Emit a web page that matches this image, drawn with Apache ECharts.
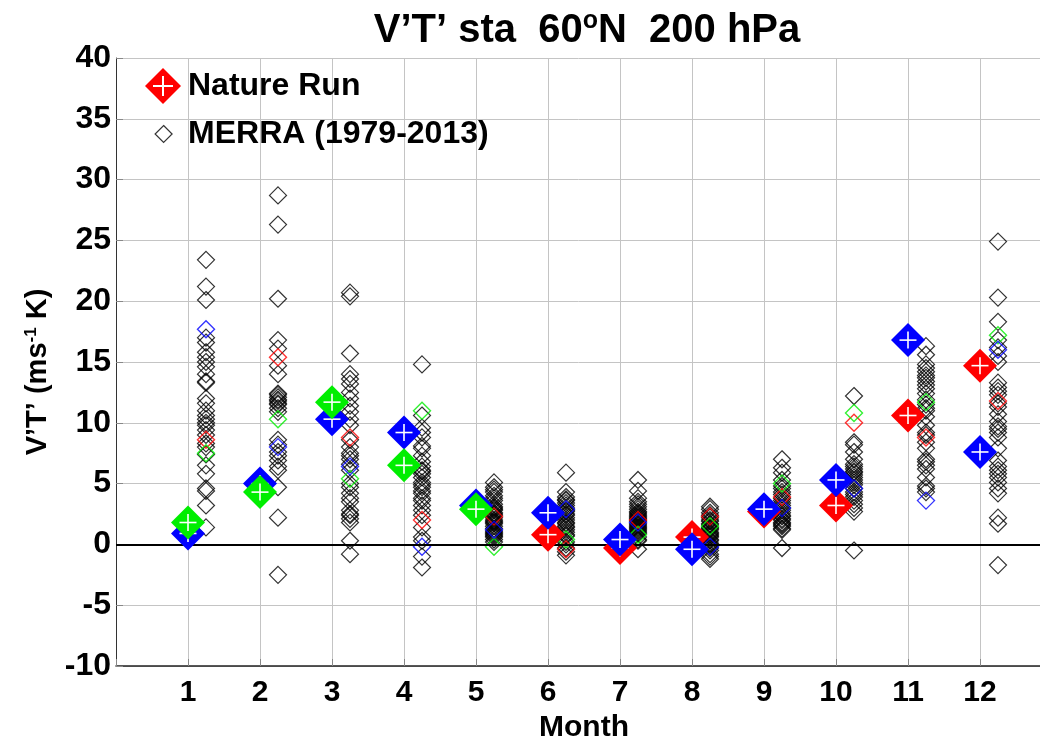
<!DOCTYPE html>
<html>
<head>
<meta charset="utf-8">
<script src="https://cdn.jsdelivr.net/npm/echarts@6.0.0/dist/echarts.min.js"></script>
<style>
  html, body { margin: 0; padding: 0; background: #fff; }
  #chart { width: 1040px; height: 749px; }
</style>
</head>
<body>
<div id="chart"></div>
<script>
// Months on the x axis and their tick labels
const months = [1, 2, 3, 4, 5, 6, 7, 8, 9, 10, 11, 12];
const monthLabels = ['1', '2', '3', '4', '5', '6', '7', '8', '9', '10', '11', '12'];

// Nature Run monthly V'T' (three runs, shown red / green / blue)
const natureRed   = [null, null, null, null, null, 0.8, -0.3, 0.6, 2.7, 3.2, 10.6, 14.7];
const natureGreen = [1.8, 4.3, 11.7, 6.5, 2.9, null, null, null, null, null, null, null];
const natureBlue  = [0.9, 5.0, 10.3, 9.2, 3.2, 2.6, 0.4, -0.4, 2.9, 5.3, 16.8, 7.6];

// MERRA years highlighted in colour
const merraRed   = [8.6, 15.4, 8.8, 2.0, 2.3, -0.4, 2.0, 2.3, 3.9, 10.0, 8.8, 11.8];
const merraGreen = [7.5, 10.3, 5.4, 11.0, -0.2, 0.4, 0.8, 1.5, 5.0, 10.8, 11.7, 17.2];
const merraBlue  = [17.7, 8.0, 6.4, -0.2, 1.2, 2.9, 1.8, -0.2, 3.0, 4.6, 3.6, 16.0];

// MERRA 1979-2013 values, one array per month
const merraJan = [23.4, 21.2, 20.1, 17.0, 16.6, 15.8, 15.4, 15.0, 14.6, 14.0, 13.4, 13.3, 12.0, 11.6, 11.0, 10.6, 10.3, 10.0, 9.8, 9.4, 9.0, 8.3, 8.0, 7.4, 6.5, 5.8, 4.6, 4.4, 3.2, 1.4];
const merraFeb = [28.7, 26.3, 20.2, 16.8, 16.1, 14.7, 14.0, 12.4, 12.3, 12.1, 11.9, 11.8, 11.6, 11.5, 11.2, 10.9, 8.6, 8.2, 7.6, 7.3, 6.9, 6.4, 6.1, 4.7, 2.2, -2.5];
const merraMar = [20.7, 20.4, 15.7, 14.0, 13.6, 13.2, 12.5, 12.0, 11.4, 10.9, 10.3, 9.8, 8.6, 8.0, 7.5, 7.3, 7.0, 6.6, 6.1, 5.0, 4.7, 4.2, 3.8, 3.5, 2.8, 2.5, 2.4, 2.1, 1.8, 0.3, -0.8];
const merraApr = [14.8, 10.6, 9.6, 9.2, 8.8, 8.1, 7.9, 7.3, 6.8, 6.4, 6.1, 6.0, 5.8, 5.5, 5.1, 4.9, 4.7, 4.4, 4.2, 3.8, 3.6, 3.2, 2.8, 2.4, 1.4, 0.6, 0.3, -1.0, -1.9];
const merraMay = [5.1, 4.7, 4.5, 4.3, 4.0, 3.8, 3.6, 3.3, 3.1, 3.0, 2.9, 2.8, 2.6, 2.5, 2.4, 2.2, 2.0, 1.9, 1.8, 1.7, 1.5, 1.3, 1.1, 1.0, 0.9, 0.8, 0.7, 0.6, 0.4, 0.2];
const merraJun = [5.9, 4.3, 3.9, 3.7, 3.6, 3.4, 3.2, 3.0, 2.8, 2.7, 2.5, 2.4, 2.2, 2.0, 1.8, 1.7, 1.5, 1.4, 1.2, 1.0, 0.8, 0.7, 0.2, 0.0, -0.3, -0.6, -0.9];
const merraJul = [5.3, 4.4, 3.8, 3.5, 3.3, 3.1, 2.9, 2.7, 2.6, 2.5, 2.4, 2.3, 2.2, 2.1, 2.0, 1.9, 1.7, 1.6, 1.5, 1.4, 1.3, 1.2, 1.1, 1.0, 0.9, 0.6, 0.4, 0.3, -0.4];
const merraAug = [3.1, 2.9, 2.6, 2.4, 2.2, 2.0, 1.9, 1.7, 1.6, 1.4, 1.3, 1.2, 1.0, 0.9, 0.8, 0.7, 0.6, 0.4, 0.3, 0.1, 0.0, -0.1, -0.3, -0.5, -0.8, -1.0, -1.2];
const merraSep = [7.0, 6.3, 5.9, 5.3, 4.8, 4.6, 4.3, 4.1, 3.8, 3.6, 3.4, 3.2, 3.0, 2.8, 2.6, 2.4, 2.3, 2.1, 2.0, 1.8, 1.7, 1.6, 1.5, 1.3, 1.2, -0.3];
const merraOct = [12.2, 8.4, 8.2, 7.6, 7.0, 6.6, 6.4, 6.2, 6.0, 5.9, 5.7, 5.5, 5.3, 5.1, 4.9, 4.6, 4.3, 4.1, 3.9, 3.6, 3.3, 3.0, 2.7, -0.5];
const merraNov = [16.3, 15.6, 14.8, 14.5, 14.2, 13.9, 13.7, 13.4, 13.1, 12.8, 12.4, 11.9, 11.5, 11.2, 11.0, 10.5, 9.8, 9.2, 9.0, 8.4, 7.9, 7.0, 6.8, 6.5, 6.2, 5.5, 4.8, 4.6, 4.3];
const merraDec = [24.9, 20.3, 18.3, 16.8, 16.2, 15.5, 15.0, 13.3, 12.9, 12.6, 12.3, 11.6, 11.3, 10.7, 10.1, 9.7, 9.5, 9.2, 8.8, 7.9, 6.9, 6.4, 6.1, 5.8, 5.5, 5.1, 4.6, 4.2, 2.2, 1.7, -1.7];

const merraByMonth = [merraJan, merraFeb, merraMar, merraApr, merraMay, merraJun,
                      merraJul, merraAug, merraSep, merraOct, merraNov, merraDec];

// MERRA columns sit a quarter month right of the Nature Run markers
const MERRA_SHIFT = 0.25;
const FONT = "'Liberation Sans', Arial, Helvetica, sans-serif";

const merraPoints = [];
merraByMonth.forEach((vals, i) => vals.forEach(v => merraPoints.push([months[i] + MERRA_SHIFT, v])));

function merraColumn(values) {
  return months.map((m, i) => [m + MERRA_SHIFT, values[i]]);
}

// Filled diamond with a white cross, drawn at each Nature Run value
function natureSeries(name, color, values) {
  return {
    name: name,
    type: 'custom',
    z: 5,
    itemStyle: { color: color },
    encode: { x: 0, y: 1 },
    data: months.map((m, i) => values[i] == null ? null : [m, values[i]]).filter(Boolean),
    renderItem: function (params, api) {
      const p = api.coord([api.value(0), api.value(1)]);
      const s = 17, a = 8.5;
      return {
        type: 'group',
        children: [
          { type: 'polygon',
            shape: { points: [[p[0], p[1] - s], [p[0] + s, p[1]], [p[0], p[1] + s], [p[0] - s, p[1]]] },
            style: { fill: color } },
          { type: 'line', shape: { x1: p[0] - a, y1: p[1], x2: p[0] + a, y2: p[1] },
            style: { stroke: '#fff', lineWidth: 1.6 } },
          { type: 'line', shape: { x1: p[0], y1: p[1] - a, x2: p[0], y2: p[1] + a },
            style: { stroke: '#fff', lineWidth: 1.6 } }
        ]
      };
    }
  };
}

function hollowSeries(name, color, data, width, z) {
  return {
    name: name,
    type: 'scatter',
    z: z,
    symbol: 'diamond',
    symbolSize: 17,
    itemStyle: { color: 'rgba(0,0,0,0)', borderColor: color, borderWidth: width },
    emphasis: { disabled: true },
    data: data
  };
}

// Legend icon: diamond with a cross-shaped hole (opposite winding)
const natureIcon = 'path://M0,-18L18,0L0,18L-18,0Z' +
  'M-1,-10L-1,-1L-10,-1L-10,1L-1,1L-1,10L1,10L1,1L10,1L10,-1L1,-1L1,-10Z';

const chart = echarts.init(document.getElementById('chart'), null, { renderer: 'canvas' });

chart.setOption({
  animation: false,
  backgroundColor: '#fff',
  title: {
    text: 'V’T’ sta  60{sup|o}N  200 hPa',
    left: 582,
    top: 4,
    textAlign: 'center',
    textStyle: {
      fontFamily: FONT, fontWeight: 'bold', fontSize: 40, color: '#000', lineHeight: 44,
      rich: {
        sup: { fontFamily: FONT, fontWeight: 'bold', fontSize: 25, lineHeight: 25, verticalAlign: 'top', color: '#000' }
      }
    }
  },
  legend: [
    {
      left: 145, top: 68, padding: 0, orient: 'vertical',
      itemWidth: 36, itemHeight: 36, selectedMode: false,
      textStyle: { fontFamily: FONT, fontWeight: 'bold', fontSize: 32, color: '#000', lineHeight: 34,
                   padding: [0, 0, 0, 2] },
      data: [{ name: 'Nature Run', icon: natureIcon, itemStyle: { color: '#ff0000' } }]
    },
    {
      left: 154.5, top: 117, padding: 0, orient: 'vertical',
      itemWidth: 17, itemHeight: 17, selectedMode: false,
      textStyle: { fontFamily: FONT, fontWeight: 'bold', fontSize: 32, color: '#000', lineHeight: 34,
                   padding: [0, 0, 0, 11] },
      data: [{ name: 'MERRA (1979-2013)', icon: 'diamond',
               itemStyle: { color: 'rgba(0,0,0,0)', borderColor: '#000', borderWidth: 1.2 } }]
    }
  ],
  grid: { left: 116, top: 58, width: 936, height: 608, containLabel: false, outerBoundsMode: 'none' },
  xAxis: {
    type: 'value',
    min: 0, max: 13, interval: 1,
    name: 'Month',
    nameLocation: 'middle',
    nameGap: 44,
    nameTextStyle: { fontFamily: FONT, fontWeight: 'bold', fontSize: 30, color: '#000' },
    axisLine: { show: true, onZero: false, lineStyle: { color: '#222', width: 1.5 } },
    axisTick: { show: true, inside: true, length: 7, lineStyle: { color: '#888' } },
    axisLabel: {
      margin: 12,
      fontFamily: FONT, fontWeight: 'bold', fontSize: 30, color: '#000',
      formatter: v => (v >= 1 && v <= 12) ? monthLabels[v - 1] : ''
    },
    splitLine: { show: true, lineStyle: { color: '#c4c4c4', width: 1 } }
  },
  yAxis: {
    type: 'value',
    min: -10, max: 40, interval: 5,
    name: 'V’T’ (ms{sup|-1} K)',
    nameLocation: 'middle',
    nameGap: 64,
    nameTextStyle: {
      fontFamily: FONT, fontWeight: 'bold', fontSize: 29, color: '#000',
      padding: [0, 20, 0, 0],
      rich: {
        sup: { fontFamily: FONT, fontWeight: 'bold', fontSize: 17, verticalAlign: 'top', color: '#000' }
      }
    },
    axisLine: { show: true, lineStyle: { color: '#333', width: 1 } },
    axisTick: { show: true, inside: true, length: 7, lineStyle: { color: '#888' } },
    axisLabel: { margin: 5, fontFamily: FONT, fontWeight: 'bold', fontSize: 32, color: '#000' },
    splitLine: { show: true, lineStyle: { color: '#c4c4c4', width: 1 } }
  },
  series: [
    {
      name: 'zero',
      type: 'line',
      data: [],
      z: 1,
      markLine: {
        silent: true,
        symbol: ['none', 'none'],
        label: { show: false },
        lineStyle: { color: '#000', width: 2, type: 'solid' },
        data: [{ yAxis: 0 }]
      }
    },
    hollowSeries('MERRA (1979-2013)', '#000', merraPoints, 1.2, 2),
    hollowSeries('MERRA red', '#ff0000', merraColumn(merraRed), 1.4, 3),
    hollowSeries('MERRA green', '#00ee00', merraColumn(merraGreen), 1.4, 3),
    hollowSeries('MERRA blue', '#0000ff', merraColumn(merraBlue), 1.4, 3),
    natureSeries('Nature Run', '#ff0000', natureRed),
    natureSeries('Nature Run blue', '#0000ff', natureBlue),
    natureSeries('Nature Run green', '#00ee00', natureGreen)
  ]
});
</script>
</body>
</html>
